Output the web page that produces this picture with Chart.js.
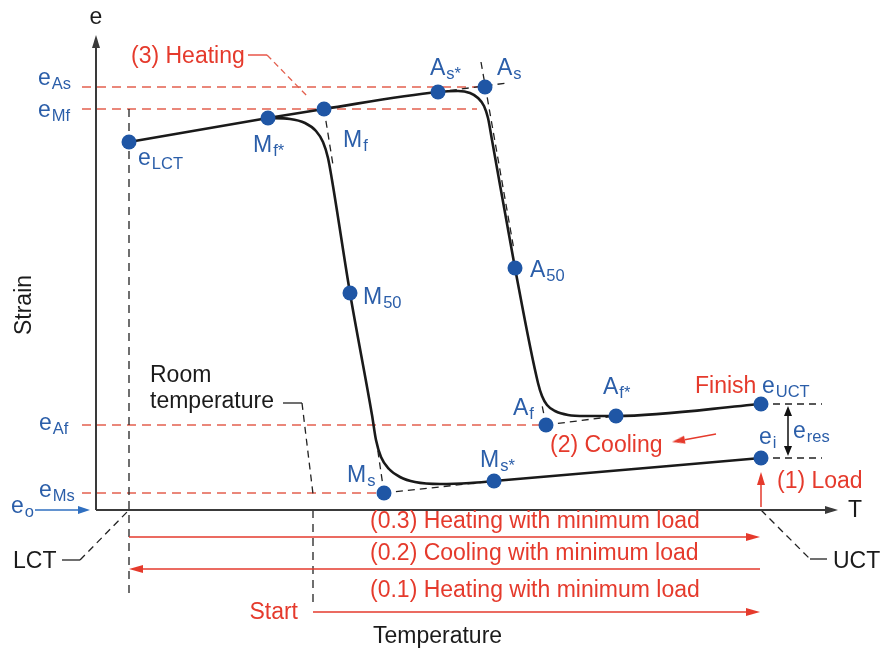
<!DOCTYPE html>
<html>
<head>
<meta charset="utf-8">
<script src="https://cdn.jsdelivr.net/npm/chart.js@4.4.0/dist/chart.umd.min.js"></script>
<style>
  html, body { margin: 0; padding: 0; background: #fff; }
  canvas { display: block; }
</style>
</head>
<body>
<canvas id="chart" width="881" height="648"></canvas>
<script>
// values: T along x, strain e along y, origin at the axes corner

// marked points on the loop
const pointNames = ['eLCT', 'Mf*', 'Mf', 'As*', 'As', 'A50', 'Af', 'Af*', 'eUCT', 'ei', 'Ms*', 'Ms', 'M50'];
const pointT = [33, 172, 228, 342, 389, 419, 450, 520, 665, 665, 398, 288, 254];
const pointE = [368, 392, 401, 418, 423, 242, 85, 94, 106, 52, 29, 17, 217];

// (3) heating branch, LCT -> UCT
const heatT = [33, 172, 228, 342, 362, 374, 382, 388, 392, 396, 419, 442, 446, 451, 459, 472, 489, 520, 665];
const heatE = [368, 392, 401, 418, 419, 417, 412, 404, 392, 370, 242, 127, 114, 105, 99, 95, 94, 94, 106];

// (2) cooling branch, stored left to right (Mf* ... ei)
const coolT = [172, 194, 209, 220, 227, 232, 236, 254, 276, 280, 285, 293, 304, 319, 344, 374, 398, 665];
const coolE = [392, 391, 387, 379, 368, 352, 330, 217, 95, 70, 53, 41, 33, 28, 26, 27, 29, 52];

// strain levels carried to the axis (red dashed)
const levelNames = ['As', 'Mf', 'Af', 'Ms'];
const levelE = [423, 401, 85, 17];
const levelEndT = [389, 381, 450, 288];
const levelStartT = -14;

// tangent construction lines (black dashed), [from, to]
const tangents = [
  [[228, 401], [237, 345]],
  [[385, 448], [418, 260]],
  [[342, 418], [411, 427]],
  [[450, 85], [446, 105]],
  [[450, 85], [520, 94]],
  [[288, 17], [281, 65]],
  [[288, 17], [398, 29]],
  [[665, 106], [726, 106]],
  [[665, 52], [726, 52]]
];

// temperatures
const LCT = 33, UCT = 665, ROOM = 217;
// strain levels of the three minimum-load passes below the T axis
const passE = [-27, -59, -102];

// text: [text, subscript, T, e(baseline), colour, align]
const BLUE_TXT = '#2b5ea9', RED = '#e53a2c', INK = '#1b1b1b';
const labels = [
  ['e', 'As', -58, 425, BLUE_TXT], ['e', 'Mf', -58, 393, BLUE_TXT],
  ['e', 'Af', -57, 80, BLUE_TXT], ['e', 'Ms', -57, 13, BLUE_TXT],
  ['e', 'o', -85, -3, BLUE_TXT], ['e', 'LCT', 42, 345, BLUE_TXT],
  ['M', 'f*', 157, 358, BLUE_TXT], ['M', 'f', 247, 363, BLUE_TXT],
  ['A', 's*', 334, 435, BLUE_TXT], ['A', 's', 401, 435, BLUE_TXT],
  ['A', '50', 434, 233, BLUE_TXT], ['M', '50', 267, 206, BLUE_TXT],
  ['A', 'f', 417, 95, BLUE_TXT], ['A', 'f*', 507, 116, BLUE_TXT],
  ['e', 'UCT', 666, 117, BLUE_TXT], ['e', 'i', 663, 66, BLUE_TXT],
  ['e', 'res', 697, 72, BLUE_TXT], ['M', 's', 251, 28, BLUE_TXT],
  ['M', 's*', 384, 43, BLUE_TXT],
  ['(3) Heating', '', 35, 447, RED], ['Finish', '', 599, 117, RED],
  ['(2) Cooling', '', 454, 58, RED], ['(1) Load', '', 681, 22, RED],
  ['(0.3) Heating with minimum load', '', 274, -18, RED],
  ['(0.2) Cooling with minimum load', '', 274, -50, RED],
  ['(0.1) Heating with minimum load', '', 274, -87, RED],
  ['Start', '', 202, -109, RED, 'right'],
  ['Room', '', 54, 128, INK], ['temperature', '', 54, 102, INK],
  ['LCT', '', -83, -58, INK], ['UCT', '', 737, -58, INK],
  ['Temperature', '', 277, -133, INK], ['T', '', 752, -7, INK],
  ['e', '', 0, 486, INK, 'center']
];

const DOT = '#1f56a5', RED_DASH = '#e3604f', AXIS = '#3a3a3a', DASH_INK = '#222';
const FONT = '"Liberation Sans", Arial, sans-serif';
const MAIN_PX = 23, SUB_PX = 16.5;

const xy = (t, e) => t.map((v, i) => ({ x: v, y: e[i] }));
const seg = (a, b) => [{ x: a[0], y: a[1] }, { x: b[0], y: b[1] }];

// arrow heads as small canvases, used as point styles
const headCache = {};
function head(color, len, wid) {
  const key = color + len + wid;
  if (headCache[key]) return headCache[key];
  const c = document.createElement('canvas');
  c.width = wid; c.height = len * 2;
  const g = c.getContext('2d');
  g.fillStyle = color;
  g.beginPath();
  g.moveTo(wid / 2, 0);
  g.lineTo(wid, len);
  g.lineTo(0, len);
  g.closePath();
  g.fill();
  headCache[key] = c;
  return c;
}

// 1 data unit is 1 px on both axes, so the head can be set back along the line
function arrow(from, to, o) {
  const dx = to[0] - from[0], dy = to[1] - from[1];
  const d = Math.hypot(dx, dy), ux = dx / d, uy = dy / d;
  const rot = Math.atan2(dx, dy) * 180 / Math.PI;
  const h = head(o.color, o.len, o.wid);
  const a = o.both ? [from[0] + ux * o.len, from[1] + uy * o.len] : from;
  const b = [to[0] - ux * o.len, to[1] - uy * o.len];
  return {
    data: seg(a, b), showLine: true, borderColor: o.color, borderWidth: o.width || 1.5,
    pointStyle: [o.both ? h : 'circle', h], pointRadius: [o.both ? 1 : 0, 1],
    pointRotation: [rot + 180, rot], order: 3
  };
}

function line(data, color, width, dash, order) {
  return { data, showLine: true, borderColor: color, borderWidth: width, borderDash: dash || [],
    pointRadius: 0, order: order || 4 };
}

const datasets = [];

// dots
datasets.push({ data: xy(pointT, pointE), pointRadius: 7.5, pointBackgroundColor: DOT,
  pointBorderWidth: 0, showLine: false, order: 0 });

// loop branches
datasets.push({ ...line(xy(heatT, heatE), '#1a1a1a', 2.6, [], 1), cubicInterpolationMode: 'monotone' });
datasets.push({ ...line(xy(coolT, coolE), '#1a1a1a', 2.6, [], 1), cubicInterpolationMode: 'monotone' });

// red dashed strain levels
levelE.forEach((e, i) => datasets.push(line(seg([levelStartT, e], [levelEndT[i], e]), RED_DASH, 1.3, [9, 6], 5)));

// tangents
tangents.forEach(p => datasets.push(line(seg(p[0], p[1]), DASH_INK, 1.3, [7, 5], 4)));

// temperature markers
datasets.push(line(seg([LCT, 401], [LCT, -85]), DASH_INK, 1.3, [8, 6]));
datasets.push(line(seg([ROOM, 0], [ROOM, passE[2] + 4]), DASH_INK, 1.3, [8, 6]));

// leaders
datasets.push(line(seg([152, 455], [171, 455]), RED, 1.3));
datasets.push(line(seg([171, 455], [212, 413]), RED_DASH, 1.3, [6, 4]));
datasets.push(line(seg([187, 107], [206, 107]), DASH_INK, 1.3));
datasets.push(line(seg([206, 107], [217, 16]), DASH_INK, 1.3, [7, 5]));
datasets.push(line(seg([-34, -50], [-16, -50]), DASH_INK, 1.3));
datasets.push(line(seg([-16, -50], [LCT, 0]), DASH_INK, 1.3, [7, 5]));
datasets.push(line(seg([UCT, 0], [714, -49]), DASH_INK, 1.3, [7, 5]));
datasets.push(line(seg([714, -49], [731, -49]), DASH_INK, 1.3));

// axes
datasets.push(arrow([0, 0], [0, 475], { color: AXIS, len: 13, wid: 8, width: 2 }));
datasets.push(arrow([0, 0], [742, 0], { color: AXIS, len: 13, wid: 8, width: 2 }));
datasets.push(arrow([-61, 0], [-6, 0], { color: '#2f6fc0', len: 12, wid: 8, width: 1.6 }));

// loading path arrows
datasets.push(arrow([LCT, passE[0]], [UCT - 1, passE[0]], { color: RED, len: 14, wid: 8 }));
datasets.push(arrow([UCT - 1, passE[1]], [LCT, passE[1]], { color: RED, len: 14, wid: 8 }));
datasets.push(arrow([ROOM, passE[2]], [UCT - 1, passE[2]], { color: RED, len: 14, wid: 8 }));
datasets.push(arrow([UCT, 3], [UCT, 38], { color: RED, len: 13, wid: 8 }));
datasets.push(arrow([620, 76], [576, 68], { color: RED, len: 13, wid: 8 }));
datasets.push(arrow([692, 104], [692, 54], { color: '#111', len: 10, wid: 8, both: true }));

const textPlugin = {
  id: 'texts',
  afterDatasetsDraw(chart) {
    const { ctx, scales: { x, y } } = chart;
    ctx.save();
    ctx.textBaseline = 'alphabetic';
    ctx.textAlign = 'left';
    labels.forEach(([text, sub, t, e, color, align]) => {
      let px = x.getPixelForValue(t);
      const py = y.getPixelForValue(e);
      ctx.font = MAIN_PX + 'px ' + FONT;
      const w1 = ctx.measureText(text).width;
      ctx.font = SUB_PX + 'px ' + FONT;
      const w2 = sub ? ctx.measureText(sub).width + 1 : 0;
      if (align === 'right') px -= w1 + w2;
      if (align === 'center') px -= (w1 + w2) / 2;
      ctx.fillStyle = color;
      ctx.font = MAIN_PX + 'px ' + FONT;
      ctx.fillText(text, px, py);
      if (sub) {
        ctx.font = SUB_PX + 'px ' + FONT;
        ctx.fillText(sub, px + w1 + 1, py + 4);
      }
    });
    // y axis title
    ctx.translate(x.getPixelForValue(-71), y.getPixelForValue(205));
    ctx.rotate(-Math.PI / 2);
    ctx.textAlign = 'center';
    ctx.textBaseline = 'middle';
    ctx.fillStyle = INK;
    ctx.font = MAIN_PX + 'px ' + FONT;
    ctx.fillText('Strain', 0, 0);
    ctx.restore();
  }
};

new Chart(document.getElementById('chart'), {
  type: 'scatter',
  data: { datasets },
  options: {
    responsive: false,
    animation: false,
    layout: { padding: 0, autoPadding: false },
    plugins: { legend: { display: false }, tooltip: { enabled: false } },
    scales: {
      x: { type: 'linear', display: false, min: -96, max: 785 },
      y: { type: 'linear', display: false, min: -138, max: 510 }
    }
  },
  plugins: [textPlugin]
});
</script>
</body>
</html>
